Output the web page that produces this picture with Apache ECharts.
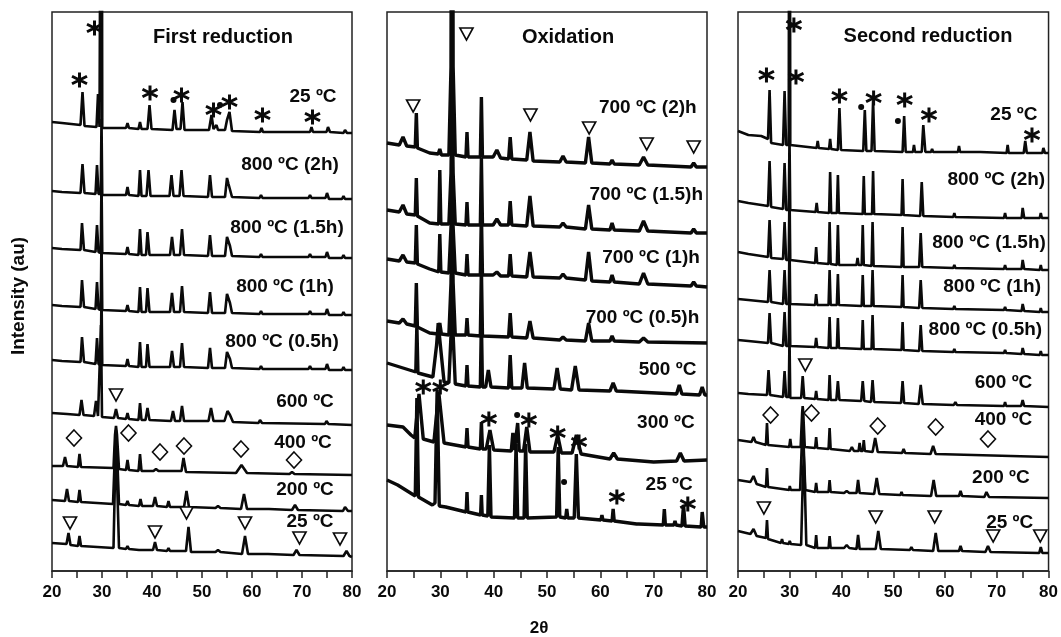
<!DOCTYPE html>
<html><head><meta charset="utf-8">
<script src="https://cdn.jsdelivr.net/npm/echarts@6/dist/echarts.min.js"></script>
<style>html,body{margin:0;padding:0;background:#fff}#c{width:1061px;height:637px}</style>
</head><body><div id="c"></div>
<script>
// ---------- DATA ----------
const xTicks = [20,30,40,50,60,70,80];
const panelTitles = ['First reduction','Oxidation','Second reduction'];

// Panel 1: First reduction (top -> bottom)
const p1Names = ['25 ºC','800 ºC (2h)','800 ºC (1.5h)','800 ºC (1h)','800 ºC (0.5h)','600 ºC','400 ºC','200 ºC','25 ºC'];
const p1Offsets = [438,372,313,256,201,146,96,60,14];
const p1LabelPos = [[72.2,474],[67.6,406],[67.0,343],[66.6,284],[66.0,229],[70.6,169],[70.2,128],[70.6,81],[71.6,49]];
const p1T1 = [20,11,22,10,25.7,8,26.1,41,26.5,7,28.9,6,29.2,39,29.5,6,29.75,6,29.9,520,30.05,5,34.8,5,35.1,10,35.4,5,37.3,4,37.6,11,37.9,4,39.1,4,39.5,28,39.9,4,44.1,3,44.5,23,44.9,4,45.7,4,46.1,31,46.5,3,51.4,3,51.9,18,52.3,4,52.6,3,52.9,8,53.2,3,54.6,3,55.0,13,55.2,11,55.5,21,56.0,2,61.6,1,61.9,5,62.2,1,66.7,1,66.9,3,67.2,1,71.6,1,71.9,6,72.2,1,74.9,1,75.2,6,75.6,1,78.3,0,78.6,3,79,0,80,0];
const p1T2 = [20,8,22,7,25.7,6,26.1,35,26.5,6,28.7,5,29.0,34,29.3,5,29.75,5,29.9,80,30.05,4,34.8,4,35.1,12,35.4,4,37.3,3,37.6,29,37.9,3,38.9,3,39.3,29,39.7,3,43.5,3,43.9,24,44.3,3,45.5,3,45.9,29,46.3,3,51.2,2,51.6,24,52.0,2,54.6,2,55.0,21,55.3,15,55.6,14,56.0,2,61.5,1,61.8,4,62.1,1,71.3,1,71.6,4,71.9,1,74.7,1,75.0,6,75.4,0,78.0,0,78.3,3,78.6,0,80,0];
const p1T3 = [20,10,22,9,25.7,8,26.0,35,26.4,8,28.7,6,29.0,33,29.3,6,29.75,5,29.9,80,30.05,5,34.8,4,35.1,11,35.4,4,37.3,3,37.6,29,37.9,3,38.8,3,39.1,26,39.5,3,43.6,3,44.0,21,44.4,3,45.6,3,46.0,29,46.4,3,51.2,2,51.6,23,52.0,2,54.6,2,55.0,21,55.6,12,56.0,2,61.5,1,61.8,4,62.1,1,71.3,1,71.6,4,71.9,1,74.7,1,75.0,6,75.4,0,78.0,0,78.3,3,78.6,0,80,0];
const p1T4 = [20,10,22,9,25.7,8,26.0,35,26.4,8,28.7,6,29.0,33,29.3,6,29.75,5,29.9,80,30.05,5,34.8,4,35.1,10,35.4,4,37.3,3,37.6,28,37.9,3,38.8,3,39.1,27,39.5,3,43.6,3,44.0,22,44.4,3,45.6,3,46.0,29,46.4,3,51.2,2,51.6,23,52.0,2,54.6,2,55.0,21,55.6,12,56.0,2,61.5,1,61.8,4,62.1,1,71.3,1,71.6,4,71.9,1,74.7,1,75.0,6,75.4,0,78.0,0,78.3,3,78.6,0,80,0];
const p1T5 = [20,10,22,9,25.7,8,26.0,33,26.4,8,28.7,6,29.0,32,29.3,6,29.75,5,29.9,80,30.05,5,34.8,4,35.1,11,35.4,4,37.3,3,37.6,28,37.9,3,38.8,3,39.1,26,39.5,3,43.6,3,44.0,19,44.4,3,45.6,3,46.0,27,46.4,3,51.2,2,51.6,22,52.0,2,54.6,2,55.0,18,55.6,11,56.0,2,61.5,1,61.8,4,62.1,1,71.3,1,71.6,4,71.9,1,74.7,1,75.0,6,75.4,0,78.0,0,78.3,3,78.6,0,80,0];
const p1T6 = [20,12,23,11,25.5,10,25.9,25,26.3,10,28.4,9,28.8,24,29.2,9,29.6,9,29.8,100,30.0,8,32.4,7,32.8,16,33.2,7,34.8,6,35.1,12,35.4,6,37.3,5,37.6,22,37.9,5,38.7,5,39.1,17,39.5,5,43.8,4,44.2,14,44.6,4,45.6,4,46.0,19,46.4,4,51.3,4,51.8,17,52.3,4,54.5,4,55.1,14,55.6,10,56.2,3,61.3,2,61.6,5,62.0,2,74.6,1,74.9,4,75.3,1,80,0];
const p1T7 = [20,9,22.2,9,22.6,18,23.0,9,25.2,8,25.5,21,25.8,8,32.3,7,32.6,40,32.8,49,33.0,40,33.4,6,34.8,5,35.1,15,35.4,5,37.3,4,37.6,21,37.9,4,40.3,4,40.8,6,41.3,4,43.9,4,44.2,6,44.5,4,45.9,4,46.3,17,46.8,3,56.8,2,57.9,10,59.0,2,67.5,1,68,3,68.5,1,80,0];
const p1T8 = [20,11,22.6,10,23.0,22,23.4,10,25.2,9,25.5,21,25.8,9,32.2,7,32.6,60,32.8,81,33.0,60,33.4,7,34.8,6,35.1,10,35.4,6,37.4,5,37.7,12,38.0,5,40.2,5,40.6,14,41.0,5,43.0,4,43.3,10,43.6,4,46.4,4,46.9,20,47.4,4,52.7,3,53.2,5,53.7,3,57.8,2,58.4,17,59.0,2,62.6,2,63.0,4,63.4,2,68.0,1,68.6,6,69.2,1,78.2,0,78.6,4,79.2,0,80,0];
const p1T9 = [20,14,22.9,13,23.3,24,23.7,12,25.2,11,25.5,21,25.8,11,32.3,9,32.6,80,32.8,107,33.0,80,33.4,9,34.8,8,35.1,11,35.4,8,37.4,7,37.7,9,38.0,7,40.2,7,40.6,15,41.0,7,43.0,6,43.3,9,43.6,6,46.8,6,47.3,30,47.8,5,52.7,5,53.2,7,53.7,5,58.0,3,58.6,21,59.2,3,62.6,3,62.9,5,63.2,3,68.3,2,68.9,7,69.5,2,78.3,1,78.9,6,79.5,1,80,0];
const p1Traces = [p1T1,p1T2,p1T3,p1T4,p1T5,p1T6,p1T7,p1T8,p1T9];
const p1Stars = [[25.5,491],[28.5,543],[39.6,478],[45.9,476],[52.3,461],[55.5,469],[62.1,456],[72.1,454]];
const p1Dots = [[44.3,471],[53.6,466]];
const p1Tris = [[32.8,176],[23.6,48],[40.6,39],[46.9,58],[58.6,48],[69.5,33],[77.6,32]];
const p1Dias = [[24.4,133],[35.3,138],[41.6,119],[46.4,125],[57.8,122],[68.4,111]];

// Panel 2: Oxidation
const p2Names = ['700 ºC (2)h','700 ºC (1.5)h','700 ºC (1)h','700 ºC (0.5)h','500 ºC','300 ºC','25 ºC'];
const p2Offsets = [404,338,284,228,176,111,44];
const p2LabelPos = [[68.9,463],[68.6,376],[69.5,313],[67.9,253],[72.6,201],[72.3,148],[72.9,86]];
const p2T1 = [20,24,22.3,22,23.0,30,23.7,21,25.3,20,25.5,54,25.7,19,28.0,14,29.6,13,29.9,18,30.2,12,31.6,12,32.0,100,32.2,700,32.4,100,32.8,12,34.8,10,35.0,35,35.2,10,37.5,10,37.7,70,37.9,10,39.9,10,40.6,17,41.3,9,42.8,8,43.1,30,43.4,8,46.2,7,46.8,35,47.4,6,52.4,5,53.0,11,53.6,5,57.2,4,57.8,30,58.4,4,61.8,3,62.2,7,62.6,3,67.3,2,68.1,10,68.9,2,77.0,0,77.5,4,78.0,0,80,0];
const p2T2 = [20,23,22.3,21,23.0,28,23.7,19,25.3,18,25.5,55,25.7,17,28.0,10,29.7,9,29.9,63,30.1,9,31.6,9,32.0,60,32.2,140,32.4,60,32.8,9,34.8,8,35.0,31,35.2,8,37.5,8,37.7,75,37.9,8,39.9,8,40.6,14,41.3,8,42.8,8,43.1,32,43.4,8,46.2,7,46.8,37,47.4,7,52.4,6,53.0,10,53.6,6,57.2,4,57.8,28,58.4,4,61.8,3,62.2,10,62.6,3,67.3,2,68.1,12,68.9,2,77.0,0,77.5,4,78.0,0,80,0];
const p2T3 = [20,28,22.3,26,23.0,32,23.7,25,25.3,24,25.5,62,25.7,23,28.0,18,29.7,15,29.9,53,30.1,15,31.6,14,32.0,60,32.2,140,32.4,60,32.8,14,34.8,12,35.0,33,35.2,12,37.5,12,37.7,75,37.9,12,39.9,12,40.6,15,41.3,11,42.8,11,43.1,33,43.4,11,46.2,10,46.8,35,47.4,10,52.4,9,53.0,13,53.6,9,57.2,7,57.8,35,58.4,6,61.8,5,62.2,12,62.6,5,67.3,3,68.1,14,68.9,3,77.0,1,77.5,5,78.0,1,80,0];
const p2T4 = [20,22,22.3,20,23.0,24,23.7,19,25.3,17,25.5,60,25.7,16,28.0,10,29.6,9,29.9,20,30.2,9,31.6,8,32.0,60,32.2,140,32.4,60,32.8,8,34.8,8,35.0,25,35.2,8,37.5,7,37.7,75,37.9,7,42.8,6,43.1,30,43.4,6,46.2,5,46.8,22,47.4,5,52.4,3,53.0,6,53.6,3,57.2,2,57.8,20,58.4,2,61.8,2,62.2,7,62.6,2,67.3,1,68.1,5,68.9,1,80,0];
const p2T5 = [20,32,23.0,27,25.4,23,25.6,70,25.8,22,28.6,18,29.3,50,29.6,72,30.0,50,30.7,13,31.6,12,32.0,60,32.2,130,32.4,60,32.8,11,34.8,9,35.0,30,35.2,9,37.5,8,37.7,75,37.9,8,38.5,8,39.0,25,39.5,8,42.8,7,43.1,40,43.4,7,45.3,7,45.8,32,46.3,7,51.3,6,51.9,27,52.5,6,54.6,5,55.3,29,56.0,5,61.8,4,62.4,12,63.0,4,74.3,1,74.8,10,75.3,1,78.6,0,79.1,8,79.6,0,80,0];
const p2T6 = [20,35,23.0,33,24.5,25,25.2,22,26.0,66,26.8,21,28.8,18,29.7,68,30.7,17,34.8,13,35.0,32,35.2,13,37.5,11,37.7,38,37.9,11,38.6,11,39.3,30,40.0,10,43.3,9,43.6,27,43.9,10,44.2,10,44.5,37,44.8,9,45.6,9,46.2,33,46.8,8,51.3,8,52.0,25,52.7,7,54.7,7,55.5,25,56.4,6,61.8,1,62.5,7,63.2,1,70,-2,74.3,-1,75.0,7,75.7,-1,80,0];
const p2T7 = [20,47,22,42,25.3,31,25.6,129,25.9,30,28.5,22,29.0,24,29.4,137,29.8,21,31,20,34.85,15,35.0,35,35.15,15,37.55,12,37.7,32,37.85,12,38.9,11,39.2,82,39.5,10,43.9,9,44.2,83,44.5,9,45.7,9,46.0,83,46.3,9,51.8,10,52.1,80,52.4,10,53.5,9,53.7,18,53.9,9,55.1,9,55.5,73,55.9,9,60.1,7,60.3,12,60.5,7,62.2,6,62.4,18,62.6,6,66.8,3,67.0,4,67.2,3,71.8,2,72.0,18,72.2,2,73.8,2,74.0,6,74.2,2,75.3,1,75.6,22,75.9,1,78.9,0,79.1,15,79.4,0,80,0];
const p2Traces = [p2T1,p2T2,p2T3,p2T4,p2T5,p2T6,p2T7];
const p2Stars = [[26.8,184],[30.0,184],[39.1,152],[46.6,151],[52.0,138],[56.0,129],[63.1,74],[76.4,67]];
const p2Dots = [[44.4,156],[53.2,89]];
const p2Tris = [[34.9,537],[24.9,465],[46.9,456],[57.9,443],[68.7,427],[77.5,424]];
const p2Dias = [];

// Panel 3: Second reduction
const p3Names = ['25 ºC','800 ºC (2h)','800 ºC (1.5h)','800 ºC (1h)','800 ºC (0.5h)','600 ºC','400 ºC','200 ºC','25 ºC'];
const p3Offsets = [418,353,301,259,216,164,114,73,18];
const p3LabelPos = [[73.3,456],[69.9,391],[68.5,328],[69.1,284],[67.8,241],[71.3,188],[71.3,151],[70.8,93],[72.5,48]];
const p3T1 = [20,22,22,18,24.5,17,25.8,14,26.1,63,26.4,10,28.7,8,29.0,62,29.3,8,29.8,8,29.95,600,30.1,8,35.2,5,35.4,12,35.6,5,37.6,4,37.8,14,38.0,4,39.3,3,39.6,45,39.9,3,44.2,2,44.5,43,44.8,2,45.8,2,46.1,52,46.4,2,51.8,1,52.1,37,52.4,1,53.8,1,54.0,8,54.2,1,55.5,1,55.8,28,56.2,1,57.3,1,57.5,4,57.7,1,62.5,1,62.7,7,62.9,1,66.4,1,66.6,3,66.8,1,71.9,0,72.1,8,72.3,0,75.2,0,75.5,12,75.8,0,78.8,0,79.0,5,79.3,0,80,0];
const p3T2 = [20,17,22,15,25.8,12,26.1,57,26.4,11,28.7,9,29.0,55,29.3,8,29.8,8,29.95,80,30.1,8,35.0,6,35.2,15,35.4,6,37.6,5,37.8,46,38.0,5,39.1,5,39.3,43,39.5,5,44.1,4,44.3,42,44.5,4,45.9,4,46.1,47,46.3,4,51.6,3,51.8,39,52.0,3,55.2,2,55.5,36,55.8,2,61.6,1,61.8,5,62.0,1,71.4,0,71.6,5,71.8,0,74.8,0,75.0,10,75.3,0,78.3,0,78.5,5,78.7,0,80,0];
const p3T3 = [20,18,22,16,25.8,13,26.1,50,26.4,12,28.7,11,29.0,48,29.3,10,29.8,10,29.95,80,30.1,10,34.9,7,35.1,23,35.3,7,37.5,6,37.7,48,37.9,6,39.1,5,39.3,45,39.5,5,42.9,5,43.1,12,43.3,5,43.9,5,44.1,45,44.3,5,45.8,4,46.0,48,46.2,4,51.6,3,51.8,43,52.0,3,55.0,3,55.3,37,55.6,3,61.6,2,61.8,5,62.0,2,71.4,1,71.6,5,71.8,1,74.8,1,75.0,10,75.3,1,78.3,0,78.5,5,78.7,0,80,0];
const p3T4 = [20,13,22,12,25.8,10,26.1,42,26.4,10,28.7,8,29.0,42,29.3,8,29.8,8,29.95,70,30.1,8,34.9,7,35.1,18,35.3,7,37.5,7,37.7,42,37.9,7,39.1,7,39.3,38,39.5,7,43.9,6,44.1,37,44.3,6,45.8,6,46.0,42,46.2,6,51.6,5,51.8,37,52.0,5,55.0,4,55.3,32,55.6,4,61.6,3,61.8,6,62.0,3,71.4,2,71.6,5,71.8,2,74.8,1,75.0,8,75.3,1,78.3,0,78.5,4,78.7,0,80,0];
const p3T5 = [20,15,22,14,25.8,12,26.1,42,26.4,12,28.7,9,29.0,43,29.3,9,29.8,9,29.95,70,30.1,9,34.9,8,35.1,17,35.3,8,37.5,7,37.7,38,37.9,7,39.1,7,39.3,37,39.5,7,43.9,6,44.1,35,44.3,6,45.8,6,46.0,40,46.2,6,51.6,5,51.8,33,52.0,5,55.0,4,55.3,30,55.6,4,61.6,3,61.8,6,62.0,3,71.4,2,71.6,5,71.8,2,74.8,1,75.0,7,75.3,1,78.3,0,78.5,4,78.7,0,80,0];
const p3T6 = [20,14,22,13,25.6,12,25.9,37,26.2,12,28.7,10,29.0,36,29.3,10,29.8,10,29.95,70,30.1,9,32.2,9,32.5,31,32.8,9,34.9,8,35.1,16,35.3,8,37.5,7,37.7,32,37.9,7,39.0,7,39.3,26,39.6,7,43.8,6,44.1,26,44.4,6,45.7,5,46.0,27,46.3,5,51.5,4,51.8,26,52.1,4,54.9,3,55.3,22,55.7,3,61.7,2,62.0,5,62.3,2,71.4,1,71.6,5,71.8,1,74.7,1,75.0,7,75.3,1,80,0];
const p3T7 = [20,17,22.6,15,23.0,20,23.4,15,25.4,12,25.6,34,25.8,12,29.9,10,30.1,18,30.3,10,32.1,10,32.4,45,32.5,51,32.6,45,32.9,10,34.9,9,35.1,20,35.3,9,37.5,8,37.7,29,37.9,8,41.6,6,42,10,42.4,6,43.3,6,43.5,14,43.7,6,44.1,6,44.3,17,44.5,6,46.0,5,46.5,19,47.0,5,51.7,4,52.0,8,52.3,4,57.2,3,57.7,11,58.2,3,80,0];
const p3T8 = [20,18,22.4,16,23.0,22,23.6,14,25.4,11,25.6,30,25.8,11,29.9,8,30.0,12,30.2,8,32.0,8,32.3,50,32.5,68,32.7,50,33.0,8,34.9,6,35.1,15,35.3,6,37.5,6,37.7,18,37.9,6,40.5,5,41.0,7,41.5,5,42.9,5,43.2,18,43.5,5,46.3,4,46.8,20,47.3,4,51.4,3,51.6,6,51.8,3,57.3,2,57.8,18,58.3,2,62.7,2,63.0,7,63.3,2,67.6,1,68.0,6,68.5,1,80,0];
const p3T9 = [20,22,22.4,19,23.0,24,23.6,17,25.4,15,25.6,33,25.8,14,28.3,10,28.5,14,28.7,10,29.8,9,30.0,12,30.2,9,32.2,8,32.5,70,32.7,97,32.9,70,33.2,8,34.9,5,35.1,18,35.3,5,37.5,5,37.7,17,37.9,5,40.5,5,41.0,8,41.5,5,42.9,4,43.2,18,43.5,4,46.6,4,47.1,22,47.6,4,53.2,3,53.5,6,53.8,3,57.7,2,58.2,20,58.7,2,62.7,2,63.0,7,63.3,2,67.8,1,68.3,7,68.8,1,78.2,0,78.5,6,78.8,0,80,0];
const p3Traces = [p3T1,p3T2,p3T3,p3T4,p3T5,p3T6,p3T7,p3T8,p3T9];
const p3Stars = [[25.5,496],[30.8,546],[31.2,494],[39.6,475],[46.2,473],[52.2,471],[56.9,456],[76.8,436]];
const p3Dots = [[43.8,464],[50.9,450]];
const p3Tris = [[33.0,206],[25.0,63],[46.6,54],[58.0,54],[69.3,35],[78.4,35]];
const p3Dias = [[26.3,156],[34.2,158],[47.0,145],[58.2,144],[68.3,132]];

// ---------- CHART ----------
const FF = 'Liberation Sans, Arial, sans-serif';
const INK = '#0a0a0a';
const grids = [
  {left:52, top:12, width:300, height:559},
  {left:387, top:12, width:320, height:559},
  {left:738, top:12, width:312, height:559}
];
function pairs(flat){const o=[];for(let i=0;i<flat.length;i+=2)o.push([flat[i],flat[i+1]]);return o;}
const panels = [
  {names:p1Names, offs:p1Offsets, lab:p1LabelPos, tr:p1Traces, stars:p1Stars, dots:p1Dots, tris:p1Tris, dias:p1Dias, lw:2.6},
  {names:p2Names, offs:p2Offsets, lab:p2LabelPos, tr:p2Traces, stars:p2Stars, dots:p2Dots, tris:p2Tris, dias:p2Dias, lw:3.4},
  {names:p3Names, offs:p3Offsets, lab:p3LabelPos, tr:p3Traces, stars:p3Stars, dots:p3Dots, tris:p3Tris, dias:p3Dias, lw:2.6}
];
const STAR = 'path://M10,0L10,20M1.34,5L18.66,15M1.34,15L18.66,5';
const series = [];
panels.forEach((p, gi) => {
  p.tr.forEach((t, k) => {
    series.push({type:'line', xAxisIndex:gi, yAxisIndex:gi, showSymbol:false, symbol:'none',
      data: pairs(t).map(d => [d[0], d[1] + p.offs[k]]),
      lineStyle:{color:INK, width:p.lw}, z:2, silent:true});
  });
  series.push({type:'scatter', xAxisIndex:gi, yAxisIndex:gi, data:p.lab.map((d,k)=>({value:d, name:p.names[k]})),
    symbolSize:1, itemStyle:{color:'rgba(0,0,0,0)', opacity:1}, z:5, silent:true,
    label:{show:true, position:'inside', formatter:q=>q.name, color:INK, opacity:1, fontSize:19, fontWeight:'bold', fontFamily:FF}});
  series.push({type:'scatter', xAxisIndex:gi, yAxisIndex:gi, data:p.stars, symbol:STAR, symbolSize:15, silent:true,
    itemStyle:{color:'rgba(0,0,0,0)', borderColor:INK, borderWidth:3, opacity:1}, z:6});
  series.push({type:'scatter', xAxisIndex:gi, yAxisIndex:gi, data:p.dots, symbol:'circle', symbolSize:6, silent:true,
    itemStyle:{color:INK, opacity:1}, z:6});
  series.push({type:'scatter', xAxisIndex:gi, yAxisIndex:gi, data:p.tris, symbol:'triangle', symbolRotate:180, symbolSize:[13,12], silent:true,
    itemStyle:{color:'#fff', borderColor:INK, borderWidth:1.7, opacity:1}, z:6});
  series.push({type:'scatter', xAxisIndex:gi, yAxisIndex:gi, data:p.dias, symbol:'diamond', symbolSize:[15,16], silent:true,
    itemStyle:{color:'#fff', borderColor:INK, borderWidth:1.6, opacity:1}, z:6});
});

const txt = (t, x, y, fs, rot) => ({type:'text', x:x, y:y, rotation:rot||0, silent:true,
  style:{text:t, textAlign:'center', textVerticalAlign:'middle', fontSize:fs, fontWeight:'bold', fontFamily:FF, fill:INK}});

const option = {
  animation:false,
  backgroundColor:'#fff',
  grid: grids.map(g => Object.assign({show:true, borderColor:'#222', borderWidth:1.5, backgroundColor:'rgba(0,0,0,0)'}, g)),
  xAxis: grids.map((g,i) => ({gridIndex:i, type:'value', min:xTicks[0], max:xTicks[xTicks.length-1], interval:10,
    axisLine:{lineStyle:{color:'#222', width:1.5}},
    axisTick:{length:7, lineStyle:{color:'#222', width:1.5}},
    minorTick:{show:true, splitNumber:2, length:7, lineStyle:{color:'#222', width:1.5}},
    splitLine:{show:false}, minorSplitLine:{show:false},
    axisLabel:{color:INK, fontSize:17, fontWeight:'bold', fontFamily:FF, margin:13}})),
  yAxis: grids.map((g,i) => ({gridIndex:i, type:'value', min:0, max:559, show:false})),
  graphic: [
    txt(panelTitles[0], 223, 37, 20),
    txt(panelTitles[1], 568, 37, 20),
    txt(panelTitles[2], 928, 36, 20),
    txt('Intensity (au)', 19, 296, 19, Math.PI/2),
    txt('2θ', 539, 628, 17)
  ],
  series: series
};
const chart = echarts.init(document.getElementById('c'), null, {renderer:'canvas'});
chart.setOption(option);
</script>
</body></html>
